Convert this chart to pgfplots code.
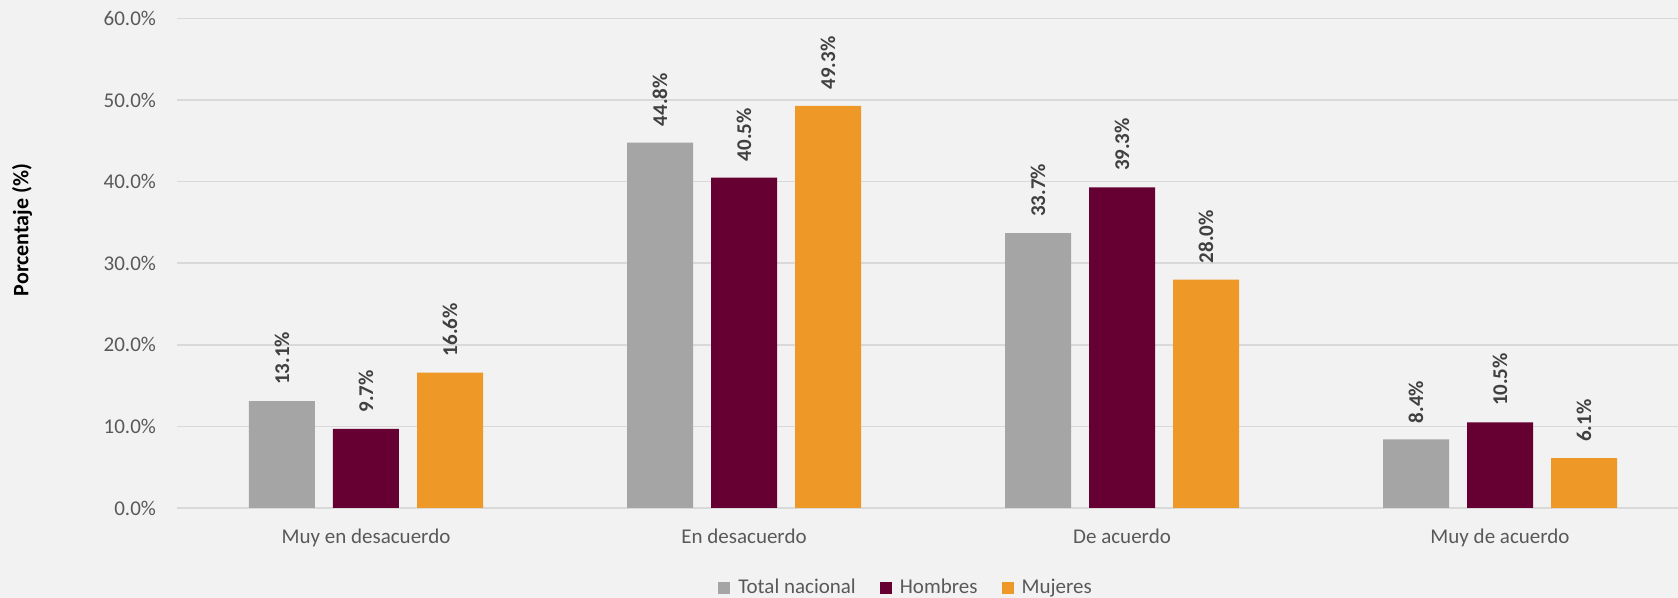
\documentclass[border=0pt]{standalone}
\usepackage{fontspec}
\setmainfont{Carlito}
\usepackage{pgfplots}
\pgfplotsset{compat=1.18}

\definecolor{bgcol}{HTML}{F2F2F2}
\definecolor{gridcol}{HTML}{D9D9D9}
\definecolor{tickcol}{HTML}{595959}
\definecolor{labcol}{HTML}{404040}
\definecolor{totalcol}{HTML}{A5A5A5}
\definecolor{hombrescol}{HTML}{660033}
\definecolor{mujerescol}{HTML}{EE9828}

\begin{document}
\begin{tikzpicture}
\fill[bgcol] (0,0) rectangle (839pt,299pt);
\useasboundingbox (0,0) rectangle (839pt,299pt);
\clip (0,0) rectangle (839pt,299pt);
\begin{axis}[
    at={(88.5pt,45pt)}, anchor=south west,
    scale only axis,
    width=756pt, height=244.75pt,
    ybar=9pt, bar width=33pt,
    xmin=-0.5, xmax=3.5,
    ymin=0, ymax=60,
    xtick={0,1,2,3},
    xticklabels={Muy en desacuerdo, En desacuerdo, De acuerdo, Muy de acuerdo},
    ytick={0,10,20,30,40,50,60},
    yticklabel={\pgfmathprintnumber[fixed,fixed zerofill,precision=1]{\tick}\%},
    /pgf/number format/assume math mode=true,
    major tick length=0pt,
    ymajorgrids, grid style={gridcol, line width=0.8pt},
    axis line style={draw=none},
    axis x line*=bottom,
    axis y line*=left,
    x axis line style={draw=gridcol, line width=0.8pt},
    ticklabel style={font=\fontsize{10.5}{13}\selectfont, text=tickcol},
    xticklabel style={yshift=-7pt},
    yticklabel style={xshift=-7pt},
    ylabel={\textbf{Porcentaje (\%)}},
    ylabel style={font=\fontsize{11}{13}\selectfont, text=black,
        at={(axis description cs:-0.1025,0.568)}, anchor=center, rotate=0},
    nodes near coords={\textbf{\pgfmathprintnumber[fixed,fixed zerofill,precision=1]{\pgfplotspointmeta}\%}},
    nodes near coords style={rotate=90, anchor=west, inner sep=0pt,
        font=\fontsize{10.5}{13}\selectfont, text=labcol, xshift=8pt},
    legend style={at={(axis description cs:0.4828,-0.163)}, anchor=center,
        draw=none, fill=none, legend columns=-1,
        font=\fontsize{10.5}{13}\selectfont, text=tickcol,
        /tikz/every odd column/.append style={column sep=2pt},
        /tikz/every even column/.append style={column sep=10pt}},
    legend image code/.code={\fill[#1] (0pt,-3pt) rectangle (6pt,3pt);},
    clip=false,
]
\addplot[fill=totalcol, draw=none] coordinates {(0,13.1) (1,44.8) (2,33.7) (3,8.4)};
\addlegendentry{Total nacional}
\addplot[fill=hombrescol, draw=none] coordinates {(0,9.7) (1,40.5) (2,39.3) (3,10.5)};
\addlegendentry{Hombres}
\addplot[fill=mujerescol, draw=none] coordinates {(0,16.6) (1,49.3) (2,28.0) (3,6.1)};
\addlegendentry{Mujeres}
\end{axis}
\end{tikzpicture}
\end{document}
